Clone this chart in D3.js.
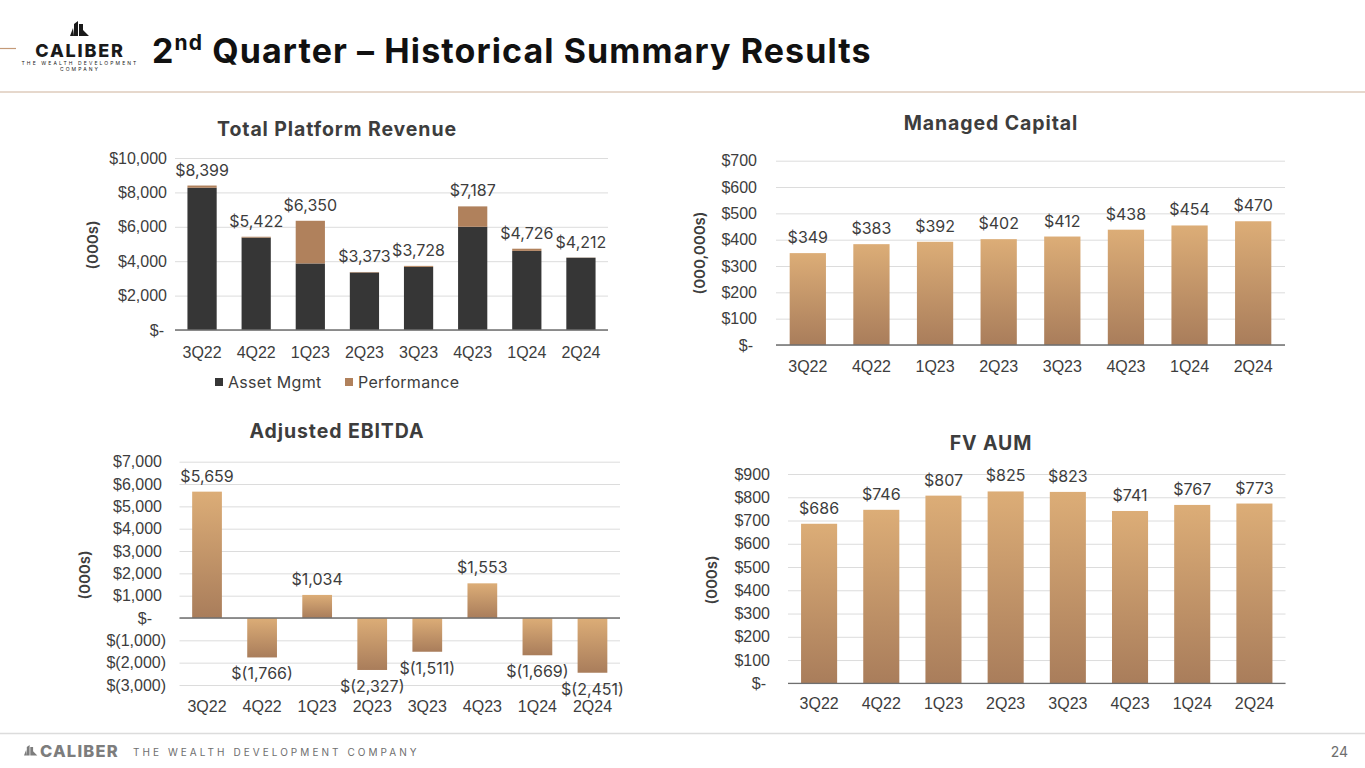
<!DOCTYPE html>
<html>
<head>
<meta charset="utf-8">
<script src="https://cdn.jsdelivr.net/npm/d3@7/dist/d3.min.js"></script>
<style>
  body { margin: 0; background: #fff; }
  svg { display: block; font-family: Inter, "Open Sans", sans-serif; }
</style>
</head>
<body>
<div id="slide"></div>
<script>
// Data
const quarters = ['3Q22', '4Q22', '1Q23', '2Q23', '3Q23', '4Q23', '1Q24', '2Q24'];
const assetMgmt = [8270, 5372, 3870, 3345, 3670, 6000, 4600, 4202];
const performance = [129, 50, 2480, 28, 58, 1187, 126, 10];
const managedCapital = [349, 383, 392, 402, 412, 438, 454, 470];
const ebitda = [5659, -1766, 1034, -2327, -1511, 1553, -1669, -2451];
const fvAum = [686, 746, 807, 825, 823, 741, 767, 773];

const revenueTicks = [0, 2000, 4000, 6000, 8000, 10000];
const capitalTicks = [0, 100, 200, 300, 400, 500, 600, 700];
const ebitdaTicks = [-3000, -2000, -1000, 0, 1000, 2000, 3000, 4000, 5000, 6000, 7000];
const aumTicks = [0, 100, 200, 300, 400, 500, 600, 700, 800, 900];

const legendNames = ['Asset Mgmt', 'Performance'];

// formats: $10,000  $-  $(1,000)
const fmtMoney = v => v === 0 ? '$-' : v < 0 ? `$(${d3.format(',')(-v)})` : `$${d3.format(',')(v)}`;

const TEXT = '#3d3d3d';
const DARK = '#363636';
const PERF = '#b0815c';

const svg = d3.select('#slide').append('svg')
    .attr('width', 1365).attr('height', 768);

const defs = svg.append('defs');
const grad = defs.append('linearGradient').attr('id', 'gold')
    .attr('x1', 0).attr('y1', 0).attr('x2', 0).attr('y2', 1);
grad.append('stop').attr('offset', '0%').attr('stop-color', '#dcad77');
grad.append('stop').attr('offset', '100%').attr('stop-color', '#a97d5b');

// ---------- Header ----------
svg.append('line').attr('x1', 0).attr('x2', 16).attr('y1', 48.5).attr('y2', 48.5)
    .attr('stroke', '#c49a78').attr('stroke-width', 1.2);
svg.append('line').attr('x1', 0).attr('x2', 1365).attr('y1', 92).attr('y2', 92)
    .attr('stroke', '#cdb19a').attr('stroke-width', 1);

function buildingIcon(g, s, color) {
    // small stylised tower mark
    g.append('path')
        .attr('d', 'M0,15 L3,7 L4,15 Z M4,15 L4,3 L8,0 L8,15 Z M9,15 L9,3 L13,3 L13,9 L19,15 Z M10,15 L10,10 L15,15 Z')
        .attr('transform', `scale(${s})`)
        .attr('fill', color);
}
const logo = svg.append('g');
buildingIcon(logo.append('g').attr('transform', 'translate(70,21)'), 1.0, '#1a1a1a');
logo.append('text').attr('x', 80).attr('y', 57).attr('text-anchor', 'middle')
    .style('font-size', '18px').style('font-weight', 800).style('letter-spacing', '1.8px')
    .style('fill', '#1a1a1a').text('CALIBER');
logo.append('text').attr('x', 80).attr('y', 64.5).attr('text-anchor', 'middle')
    .style('font-size', '5px').style('letter-spacing', '2.1px').style('fill', '#1a1a1a')
    .text('THE WEALTH DEVELOPMENT');
logo.append('text').attr('x', 80).attr('y', 71).attr('text-anchor', 'middle')
    .style('font-size', '5px').style('letter-spacing', '2.1px').style('fill', '#1a1a1a')
    .text('COMPANY');

const title = svg.append('text').attr('x', 152).attr('y', 63)
    .style('font-size', '34px').style('font-weight', 700).style('letter-spacing', '1.1px')
    .style('fill', '#111');
title.append('tspan').text('2');
title.append('tspan').attr('dy', -13).style('font-size', '21px').text('nd');
title.append('tspan').attr('dy', 13).text(' Quarter – Historical Summary Results');

// ---------- Footer ----------
svg.append('line').attr('x1', 0).attr('x2', 1365).attr('y1', 733.5).attr('y2', 733.5)
    .attr('stroke', '#dcdcdc').attr('stroke-width', 1.5);
buildingIcon(svg.append('g').attr('transform', 'translate(24,745)'), 0.7, '#7d7d7d');
svg.append('text').attr('x', 40).attr('y', 757)
    .style('font-size', '16.5px').style('font-weight', 800).style('letter-spacing', '1.2px')
    .style('fill', '#7d7d7d').text('CALIBER');
svg.append('text').attr('x', 133).attr('y', 755.5)
    .style('font-size', '10px').style('letter-spacing', '3.05px')
    .style('fill', '#6e6e6e').text('THE WEALTH DEVELOPMENT COMPANY');
svg.append('text').attr('x', 1348).attr('y', 757).attr('text-anchor', 'end')
    .style('font-size', '14px').style('fill', '#6e6e6e').text('24');

// ---------- Panels ----------
function drawPanel(o) {
    const g = svg.append('g');
    const x = d3.scaleBand().domain(quarters).range([o.left, o.right])
        .paddingInner(o.gap).paddingOuter(o.gap / 2);
    const y = d3.scaleLinear().domain(o.domain).range([o.bottom, o.top]);

    // gridlines + tick labels
    const yAxis = d3.axisLeft(y).tickValues(o.ticks)
        .tickFormat(fmtMoney)
        .tickSizeInner(-(o.right - o.left)).tickSizeOuter(0)
        .tickPadding(o.left - o.tickRight);
    const ya = g.append('g').attr('transform', `translate(${o.left},0)`).call(yAxis);
    ya.select('.domain').remove();
    ya.selectAll('.tick line').attr('stroke', '#dcdcdc').attr('stroke-width', 1);
    ya.selectAll('.tick text').style('font-size', '16px').style('fill', TEXT)
        .attr('font-family', null)
        .attr('dx', d => (o.parenPad && d > 0) ? -4 : (d === 0 ? -o.dashPad : 0));

    // x labels
    const xAxis = d3.axisBottom(x).tickSize(0).tickPadding(0);
    const xa = g.append('g').attr('transform', `translate(0,${o.xLabelY})`).call(xAxis);
    xa.select('.domain').remove();
    xa.selectAll('.tick text').attr('dy', '0.35em').attr('font-family', null)
        .style('font-size', '16px').style('fill', TEXT);

    // title
    g.append('text').attr('x', o.titleX).attr('y', o.titleY).attr('text-anchor', 'middle')
        .attr('dy', '0.35em')
        .style('font-size', '19.5px').style('font-weight', 700).style('letter-spacing', '0.9px')
        .style('fill', TEXT).text(o.title);

    // y label
    g.append('text')
        .attr('transform', `translate(${o.yLabelX},${o.yLabelY}) rotate(-90)`)
        .attr('text-anchor', 'middle').attr('dy', '0.35em')
        .style('font-size', '15px').style('font-weight', 600).style('fill', TEXT).text(o.yLabel);

    return {g, x, y};
}

function baseline(p, o) {
    p.g.append('line').attr('x1', o.left).attr('x2', o.right)
        .attr('y1', p.y(0)).attr('y2', p.y(0))
        .attr('stroke', '#6f6f6f').attr('stroke-width', 1.3);
}

function valueLabels(p, values, labelFmt) {
    p.g.selectAll('.vlabel').data(values).join('text')
        .attr('class', 'vlabel')
        .attr('x', (d, i) => p.x(quarters[i]) + p.x.bandwidth() / 2)
        .attr('y', d => d >= 0 ? p.y(d) - 10 : p.y(d) + 22)
        .attr('text-anchor', 'middle')
        .style('font-size', '16px').style('fill', TEXT)
        .text(labelFmt);
}

function goldBars(p, values) {
    p.g.selectAll('.bar').data(values).join('rect')
        .attr('class', 'bar')
        .attr('x', (d, i) => p.x(quarters[i]))
        .attr('width', p.x.bandwidth())
        .attr('y', d => p.y(Math.max(0, d)))
        .attr('height', d => Math.abs(p.y(d) - p.y(0)))
        .attr('fill', 'url(#gold)');
}

// Total Platform Revenue (stacked)
const revOpt = {left: 175, right: 608, top: 158, bottom: 330, domain: [0, 10000], ticks: revenueTicks,
    gap: 0.46, tickRight: 167, dashPad: 3, xLabelY: 352, title: 'Total Platform Revenue', titleX: 337, titleY: 129,
    yLabel: '(000s)', yLabelX: 93, yLabelY: 245};
const rev = drawPanel(revOpt);
const stackData = quarters.map((q, i) => ({q, asset: assetMgmt[i], perf: performance[i]}));
const series = d3.stack().keys(['asset', 'perf'])(stackData);
const revColor = d3.scaleOrdinal().domain(['asset', 'perf']).range([DARK, PERF]);
rev.g.selectAll('.layer').data(series).join('g')
    .attr('class', 'layer').attr('fill', d => revColor(d.key))
    .selectAll('rect').data(d => d).join('rect')
    .attr('x', d => rev.x(d.data.q))
    .attr('width', rev.x.bandwidth())
    .attr('y', d => rev.y(d[1]))
    .attr('height', d => rev.y(d[0]) - rev.y(d[1]));
baseline(rev, revOpt);
valueLabels(rev, quarters.map((q, i) => assetMgmt[i] + performance[i]), fmtMoney);

// legend
const legend = rev.g.append('g').attr('transform', 'translate(215,382)');
legendNames.forEach((name, i) => {
    const lx = i === 0 ? 0 : 130;
    legend.append('rect').attr('x', lx).attr('y', -4).attr('width', 8).attr('height', 8)
        .attr('fill', i === 0 ? DARK : PERF);
    legend.append('text').attr('x', lx + 13).attr('y', 0).attr('dy', '0.35em')
        .style('font-size', '16px').style('letter-spacing', '0.3px').style('fill', TEXT).text(name);
});

// Managed Capital
const capOpt = {left: 776, right: 1285, top: 160.7, bottom: 345, domain: [0, 700], ticks: capitalTicks,
    gap: 0.43, tickRight: 757, dashPad: 4, xLabelY: 366.5, title: 'Managed Capital', titleX: 991, titleY: 123,
    yLabel: '(000,000s)', yLabelX: 700, yLabelY: 253};
const cap = drawPanel(capOpt);
goldBars(cap, managedCapital);
baseline(cap, capOpt);
valueLabels(cap, managedCapital, fmtMoney);

// Adjusted EBITDA
const ebOpt = {left: 179.5, right: 620, top: 461.7, bottom: 685, domain: [-3000, 7000], ticks: ebitdaTicks,
    gap: 0.46, tickRight: 166, parenPad: true, dashPad: 14, xLabelY: 706, title: 'Adjusted EBITDA', titleX: 337, titleY: 431,
    yLabel: '(000s)', yLabelX: 85, yLabelY: 575};
const eb = drawPanel(ebOpt);
goldBars(eb, ebitda);
baseline(eb, ebOpt);
valueLabels(eb, ebitda, fmtMoney);

// FV AUM
const aumOpt = {left: 788, right: 1285.5, top: 474, bottom: 683.3, domain: [0, 900], ticks: aumTicks,
    gap: 0.42, tickRight: 770, dashPad: 4, xLabelY: 703.5, title: 'FV AUM', titleX: 991, titleY: 443,
    yLabel: '(000s)', yLabelX: 712, yLabelY: 580};
const aum = drawPanel(aumOpt);
goldBars(aum, fvAum);
baseline(aum, aumOpt);
valueLabels(aum, fvAum, fmtMoney);
</script>
</body>
</html>
